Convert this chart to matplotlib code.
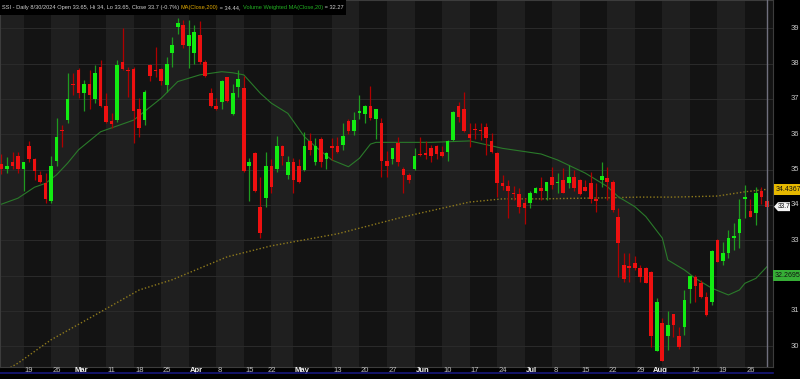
import matplotlib
matplotlib.use("Agg")
import matplotlib.pyplot as plt
from matplotlib import font_manager
from matplotlib.patches import Rectangle, Polygon
from matplotlib.transforms import IdentityTransform
import numpy as np

# daily OHLC, SSI, mid Feb .. 8/30/2024 (one entry per trading day)
opens = [35.16, 35.01, 35.22, 35.37, 35.01, 35.67, 35.30, 34.85, 34.61, 34.11,
         35.24, 36.13, 36.40, 37.42, 37.82, 37.16, 37.42, 37.00, 37.91, 36.80,
         36.38, 36.40, 38.05, 37.83, 37.85, 36.71, 36.40, 37.96, 37.83, 37.84,
         37.39, 38.31, 39.03, 39.09, 38.51, 38.31, 38.81, 38.05, 37.16, 36.81,
         36.90, 37.61, 36.56, 37.35, 37.32, 35.10, 35.46, 33.95, 34.20, 35.11,
         35.01, 35.67, 34.85, 35.22, 35.11, 34.99, 35.81, 35.20, 35.86, 35.30,
         35.67, 35.67, 35.70, 36.38, 36.10, 36.61, 36.57, 36.81, 36.42, 36.31,
         35.24, 35.30, 35.76, 35.02, 34.85, 35.01, 35.44, 35.46, 35.60, 35.67,
         35.51, 35.51, 35.84, 36.81, 36.71, 36.00, 36.14, 36.13, 36.21, 35.81,
         35.46, 34.61, 34.54, 34.32, 34.31, 34.06, 34.05, 34.35, 34.47, 34.40,
         34.80, 34.61, 34.71, 34.61, 34.80, 34.71, 34.52, 34.61, 34.16, 34.71,
         34.75, 34.66, 33.67, 32.30, 32.27, 32.35, 32.21, 32.21, 32.11, 29.85,
         30.65, 30.29, 30.90, 30.29, 30.55, 31.61, 31.95, 31.80, 31.40, 31.26,
         33.01, 32.41, 32.63, 33.06, 33.21, 34.16, 33.83, 33.76, 34.38, 34.12]
highs = [35.45, 35.35, 35.51, 35.50, 35.22, 35.81, 35.32, 34.96, 34.91, 35.37,
         36.47, 36.26, 37.73, 37.73, 37.87, 37.54, 37.82, 37.96, 38.10, 37.16,
         36.61, 38.10, 39.00, 37.91, 37.91, 37.02, 37.25, 38.00, 38.46, 37.87,
         38.20, 38.76, 39.28, 39.23, 39.23, 39.09, 39.20, 38.10, 37.30, 37.02,
         37.54, 37.63, 37.42, 37.82, 37.65, 35.32, 35.50, 34.80, 35.51, 35.30,
         35.96, 35.70, 35.37, 35.34, 35.29, 36.07, 36.03, 35.90, 35.93, 35.51,
         35.90, 35.91, 36.33, 36.43, 36.62, 37.11, 36.83, 37.37, 36.72, 36.45,
         35.53, 35.62, 35.91, 35.07, 34.90, 35.60, 35.91, 35.81, 35.70, 35.70,
         35.66, 35.83, 36.65, 36.90, 37.20, 36.31, 36.31, 36.31, 36.31, 36.03,
         35.51, 34.85, 34.71, 34.54, 34.47, 34.19, 34.38, 34.52, 34.80, 34.66,
         35.07, 34.91, 35.04, 35.13, 35.00, 34.74, 34.71, 34.94, 34.61, 35.21,
         35.07, 34.70, 33.90, 32.63, 32.64, 32.55, 32.30, 32.25, 32.13, 31.36,
         30.79, 31.00, 30.92, 30.55, 31.59, 32.02, 32.02, 31.87, 31.54, 32.72,
         33.03, 32.96, 33.29, 33.50, 34.17, 34.56, 34.16, 34.50, 34.50, 34.28]
lows = [34.88, 34.91, 35.02, 34.91, 34.40, 35.22, 34.71, 34.61, 34.06, 34.06,
        35.11, 35.65, 36.31, 37.11, 37.02, 36.67, 36.72, 36.88, 36.78, 36.31,
        36.17, 36.36, 37.82, 37.06, 35.75, 35.93, 36.26, 37.52, 37.63, 37.39,
        37.20, 37.91, 38.84, 38.45, 37.87, 38.00, 38.00, 37.63, 36.78, 36.69,
        36.72, 36.92, 36.54, 37.06, 34.94, 34.12, 34.37, 33.06, 33.95, 34.33,
        34.94, 35.13, 34.72, 34.33, 34.61, 34.97, 35.41, 35.13, 35.07, 35.01,
        35.27, 35.48, 35.54, 36.01, 35.98, 36.42, 36.31, 36.40, 35.86, 34.80,
        34.80, 35.15, 35.10, 34.33, 34.61, 34.99, 35.37, 35.30, 35.22, 35.30,
        35.35, 35.25, 35.81, 36.36, 36.07, 35.65, 35.86, 35.84, 35.41, 35.46,
        34.22, 34.42, 33.62, 34.14, 33.76, 33.46, 33.90, 34.33, 34.14, 34.14,
        34.44, 34.33, 34.35, 34.47, 34.40, 34.28, 34.40, 34.05, 33.81, 34.52,
        34.14, 33.80, 31.97, 31.83, 31.82, 32.16, 31.83, 31.78, 29.99, 29.85,
        29.59, 29.89, 30.27, 29.91, 30.32, 31.22, 31.26, 31.36, 30.84, 31.17,
        32.39, 32.30, 32.49, 32.72, 32.77, 33.62, 33.67, 33.43, 34.03, 33.93]
closes = [35.02, 35.11, 35.11, 35.01, 35.20, 35.30, 34.96, 34.66, 34.16, 35.10,
          35.91, 36.10, 37.00, 37.38, 37.16, 37.42, 37.11, 37.73, 36.80, 36.36,
          36.29, 37.96, 37.85, 37.80, 36.67, 36.17, 37.20, 37.66, 37.80, 37.51,
          38.00, 38.53, 39.16, 38.53, 38.81, 38.90, 38.05, 37.66, 36.81, 36.72,
          37.51, 36.95, 37.18, 37.56, 34.96, 35.22, 34.40, 33.21, 35.10, 34.52,
          35.67, 35.37, 35.22, 34.71, 34.66, 35.67, 35.56, 35.67, 35.20, 35.46,
          35.60, 35.51, 35.95, 36.10, 36.40, 36.67, 36.81, 36.45, 36.70, 35.25,
          35.11, 35.60, 35.20, 34.85, 34.71, 35.39, 35.40, 35.40, 35.39, 35.44,
          35.37, 35.81, 36.62, 36.50, 36.10, 35.90, 36.12, 36.10, 35.90, 35.51,
          34.61, 34.54, 34.40, 34.30, 33.95, 33.90, 34.35, 34.47, 34.40, 34.66,
          34.56, 34.66, 34.35, 34.80, 34.47, 34.31, 34.40, 34.16, 34.12, 34.82,
          34.66, 33.86, 32.91, 31.90, 32.21, 32.21, 31.95, 31.80, 30.30, 31.26,
          29.59, 30.60, 30.60, 29.99, 31.31, 32.00, 31.71, 31.40, 30.88, 32.70,
          32.39, 32.63, 33.06, 33.12, 33.60, 34.22, 33.67, 34.33, 34.22, 33.95]

# MA(Close,200) at some bars
ma200_idx = [0, 3, 9, 18, 25, 31, 41, 49, 61, 73, 85, 91, 98, 110, 116, 122, 130, 135, 139]
ma200_val = [29.25, 29.52, 30.18, 30.97, 31.59, 31.88, 32.53, 32.84, 33.18, 33.66,
             34.08, 34.17, 34.17, 34.20, 34.22, 34.22, 34.25, 34.37, 34.44]

# Volume Weighted MA(Close,20)
vwma_idx = [0, 3, 6, 8, 10, 12, 14, 18, 24, 29, 32, 36, 40, 42, 44, 47, 49, 52, 55,
            57, 60, 63, 65, 67, 68, 78, 85, 91, 98, 101, 106, 110, 112, 115, 117,
            120, 121, 124, 126, 129, 132, 134, 135, 137, 139]
vwma_val = [34.02, 34.19, 34.50, 34.61, 34.85, 35.18, 35.56, 36.07, 36.40, 37.02,
            37.49, 37.68, 37.77, 37.74, 37.68, 37.16, 36.88, 36.59, 35.93, 35.65,
            35.27, 35.08, 35.32, 35.72, 35.77, 35.77, 35.81, 35.60, 35.44, 35.27,
            34.90, 34.52, 34.23, 33.95, 33.67, 33.06, 32.44, 32.16, 31.92, 31.64,
            31.45, 31.59, 31.78, 31.92, 32.25]

# week starts (bar index) and the date labels under them
week_starts = [4, 9, 14, 19, 24, 29, 34, 39, 44, 49, 53, 60, 65, 70, 75, 80, 85,
               90, 95, 100, 105, 110, 115, 120, 125, 130, 135]
tick_pos = [4, 9, 13, 19, 24, 29, 34, 39, 44, 48, 53, 60, 65, 70, 75, 80, 85, 90,
            95, 100, 105, 110, 115, 118, 125, 130, 135]
tick_lbl = ["19", "26", "Mar", "11", "18", "25", "Apr", "8", "15", "22", "May", "13",
            "20", "27", "Jun", "10", "17", "24", "Jul", "8", "15", "22", "29", "Aug",
            "12", "19", "26"]
y_ticks = [30, 31, 32, 33, 34, 35, 36, 37, 38, 39]

header = [("SSI - Daily 8/30/2024 Open 33.65, Hi 34, Lo 33.65, Close 33.7 (-0.7%) ", "#d2d2d2"),
          ("MA(Close,200)", "#e0a800"),
          (" = 34.44, ", "#d2d2d2"),
          ("Volume Weighted MA(Close,20)", "#22b022"),
          (" = 32.27", "#d2d2d2")]
ma200_lbl = "34.4367"
last_lbl = "33.7"
vwma_lbl = "32.2695"
vwma_box_at = 32.0   # the box sits on the 32 gridline and hides that label


def pick_font():
    for name in ["Liberation Sans Narrow", "Liberation Sans", "DejaVu Sans"]:
        try:
            font_manager.findfont(name, fallback_to_default=False)
            return name
        except ValueError:
            pass
    return "DejaVu Sans"


FONT = pick_font()
plt.rcParams['font.family'] = [FONT, 'DejaVu Sans']

W, H = 800, 379
PLOT_R, PLOT_B = 773, 367
fig = plt.figure(figsize=(W / 100, H / 100), dpi=100, facecolor="black")
ax = fig.add_axes([0, 1 - PLOT_B / H, PLOT_R / W, PLOT_B / H])
ax.set_facecolor("#141414")

n = len(closes)
x = np.arange(n)
o = np.array(opens)
c = np.array(closes)
hi = np.array(highs)
lo = np.array(lows)

ax.set_xlim(-0.27, 140.1)
ax.set_ylim(29.41, 39.80)

# alternating weekly background bands
edges = [-1] + week_starts + [n + 2]
for k in range(len(edges) - 1):
    col = "#1f1f1f" if k % 2 == 0 else "#131313"
    ax.axvspan(edges[k], edges[k + 1], color=col, lw=0, zorder=0)

for v in y_ticks:
    ax.axhline(v, color="#2b2b2b", lw=0.7, zorder=0.5)

# moving averages
ax.plot(ma200_idx, ma200_val, color="#8f7a1c", lw=1.0, ls=(0, (1, 1.5)), zorder=1)
ax.plot(vwma_idx, vwma_val, color="#2a7a2a", lw=0.8, zorder=1)

# candles
up = c >= o
wick_col = np.where(up, "#1f9a1f", "#b00000")
body_col = np.where(up, "#12ec12", "#ee1010")
ax.vlines(x, lo, hi, colors=wick_col, lw=0.9, zorder=2)
body_lo = np.minimum(o, c)
body_h = np.maximum(np.abs(c - o), 0.03)
ax.bar(x, body_h, bottom=body_lo, width=0.66, color=body_col, lw=0, zorder=3)

# cursor line on the last bar
ax.axvline(n - 1, color="#70707e", lw=1, zorder=4)

ax.set_xticks([])
ax.set_yticks([])
for s in ax.spines.values():
    s.set_color("#3c3c3c")
    s.set_linewidth(0.8)

# right-side price labels
ytr = ax.get_yaxis_transform()
for v in y_ticks:
    if abs(v - vwma_box_at) < 0.3:
        continue
    ax.text(795 / PLOT_R, v, str(v), transform=ytr, ha="center", va="center",
            fontsize=5.5, color="#c8c8c8", clip_on=False)

# date labels
xtr = ax.get_xaxis_transform()
for p, t in zip(tick_pos, tick_lbl):
    month = not t.isdigit()
    ax.text(p + 0.25, -3.5 / PLOT_B, t, transform=xtr, ha="left", va="center",
            fontsize=5.5, color="#f0f0f0" if month else "#bdbdbd",
            fontweight="bold" if month else "normal", clip_on=False)

fig.add_artist(plt.Line2D([0, PLOT_R / W], [1 - 373 / H, 1 - 373 / H],
                          color="#17177c", lw=1.2, transform=fig.transFigure))

# value boxes on the price axis
fig.canvas.draw()


def ypix(v):
    return ax.transData.transform((0, v))[1]


ax.text(788 / PLOT_R, ma200_val[-1], ma200_lbl, transform=ytr, ha="center", va="center",
        fontsize=5, color="#111111", clip_on=False, zorder=6,
        bbox=dict(boxstyle="square,pad=0.25", fc="#e6b800", ec="none"))
ax.text(788 / PLOT_R, vwma_box_at, vwma_lbl, transform=ytr, ha="center", va="center",
        fontsize=5, color="#111111", clip_on=False, zorder=6,
        bbox=dict(boxstyle="square,pad=0.25", fc="#36ae36", ec="none"))
yp = ypix(closes[-1])
pts = [(774, yp), (778, yp - 4.5), (790, yp - 4.5), (790, yp + 4.5), (778, yp + 4.5)]
fig.add_artist(Polygon(pts, closed=True, fc="#f4f4f4", ec="none",
                       transform=IdentityTransform(), zorder=5))
fig.text(784 / W, yp / H, last_lbl, ha="center", va="center", fontsize=4.8,
         color="#111111", zorder=6)

# header line
rend = fig.canvas.get_renderer()
full = "".join(t for t, _ in header)
probe = fig.text(0, 0, full, fontsize=10)
wfull = probe.get_window_extent(rend).width
probe.remove()
hsize = 10 * 341 / wfull
xpos = 2
for t, col in header:
    tt = fig.text(xpos / W, 1 - 7.5 / H, t, color=col, fontsize=hsize, ha="left",
                  va="center", zorder=6)
    xpos += tt.get_window_extent(rend).width
fig.add_artist(Rectangle((0, 1 - 15 / H), (xpos + 3) / W, 15 / H, fc="black", ec="none",
                         transform=fig.transFigure, zorder=5))

fig.savefig("out.png", dpi=100, facecolor="black")
